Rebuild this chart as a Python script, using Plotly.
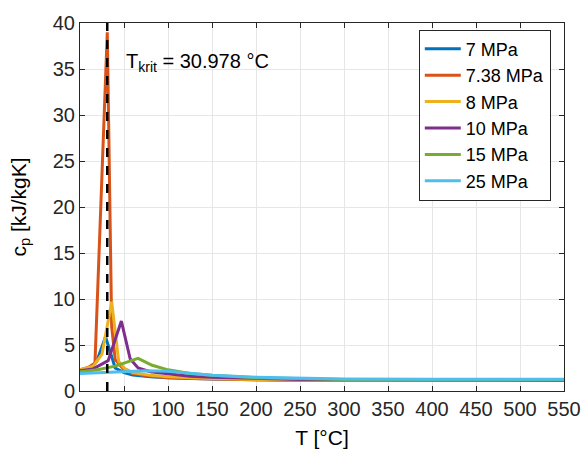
import plotly.graph_objects as go

# (T in degC, cp in kJ/kgK)
labels = ["7 MPa", "7.38 MPa", "8 MPa", "10 MPa", "15 MPa", "25 MPa"]
colors = ["#0072BD", "#D95319", "#EDB120", "#7E2F8E", "#77AC30", "#4DBEEE"]

T_7 = [0, 10, 19, 29, 40, 50, 60, 80, 100, 125, 150, 200, 250, 300, 400, 550]
cp_7 = [2.2, 2.5, 3.2, 5.9, 2.5, 2.0, 1.75, 1.55, 1.45, 1.35, 1.3, 1.22, 1.18, 1.16, 1.15, 1.17]

T_738 = [0, 10, 17, 31, 36, 40, 50, 60, 80, 100, 125, 150, 200, 250, 300, 400, 550]
cp_738 = [2.3, 2.6, 3.0, 39.0, 7.0, 3.4, 2.3, 1.9, 1.6, 1.45, 1.37, 1.3, 1.22, 1.18, 1.16, 1.15, 1.17]

T_8 = [0, 15, 25, 36, 44, 50, 60, 80, 100, 125, 150, 200, 250, 300, 400, 550]
cp_8 = [2.3, 2.7, 4.0, 9.7, 3.2, 2.5, 2.0, 1.7, 1.55, 1.42, 1.35, 1.25, 1.2, 1.17, 1.16, 1.17]

T_10 = [0, 15, 32, 47, 57, 66, 80, 100, 125, 150, 200, 250, 300, 400, 550]
cp_10 = [2.2, 2.4, 3.3, 7.6, 3.5, 2.5, 2.1, 1.85, 1.6, 1.5, 1.35, 1.26, 1.21, 1.18, 1.18]

T_15 = [0, 20, 40, 55, 66, 82, 100, 125, 150, 200, 250, 300, 400, 550]
cp_15 = [2.1, 2.3, 2.7, 3.2, 3.55, 2.8, 2.3, 1.9, 1.7, 1.45, 1.33, 1.26, 1.22, 1.21]

T_25 = [0, 25, 50, 75, 100, 125, 150, 200, 250, 300, 400, 550]
cp_25 = [1.9, 2.0, 2.1, 2.2, 2.15, 1.9, 1.7, 1.5, 1.37, 1.31, 1.28, 1.27]

T_krit = 30.978

series = [(T_7, cp_7), (T_738, cp_738), (T_8, cp_8), (T_10, cp_10), (T_15, cp_15), (T_25, cp_25)]

fig = go.Figure()
for (t, cp), name, col in zip(series, labels, colors):
    fig.add_trace(go.Scatter(x=t, y=cp, mode="lines", name=name,
                             line=dict(color=col, width=3)))

fig.add_trace(go.Scatter(x=[T_krit, T_krit], y=[0, 40], mode="lines", showlegend=False,
                         line=dict(color="black", width=2.5, dash="dash")))

fig.add_annotation(x=T_krit + 19, y=35.7, xanchor="left", yanchor="middle", showarrow=False,
                   text="T<sub>krit</sub> = 30.978 °C", font=dict(size=20, color="black"))

axis_style = dict(showline=True, linecolor="#262626", linewidth=1, mirror="ticks",
                  ticks="inside", ticklen=5, tickcolor="#262626",
                  showgrid=True, gridcolor="#e6e6e6", zeroline=False, automargin=False,
                  tickfont=dict(size=20, color="#262626"))

fig.update_xaxes(range=[0, 550], tickvals=list(range(0, 551, 50)),
                 title=dict(text="T [°C]", font=dict(size=21, color="black"), standoff=11),
                 **axis_style)
fig.update_yaxes(range=[0, 40], tickvals=list(range(0, 41, 5)),
                 title=dict(text="c<sub>p</sub> [kJ/kgK]", font=dict(size=21, color="black"), standoff=20),
                 **axis_style)

fig.update_layout(width=584, height=453, plot_bgcolor="white", paper_bgcolor="white",
                  font=dict(family="Liberation Sans, Arial, sans-serif"),
                  margin=dict(l=80, r=20, t=23, b=62),
                  legend=dict(x=0.70, y=0.982, xanchor="left", yanchor="top",
                              bgcolor="white", bordercolor="#262626", borderwidth=1,
                              font=dict(size=18, color="black"), tracegroupgap=0,
                              itemwidth=36))

# drop the page's default body margin so the figure sits at the window's corner
fig.write_html("out.html", config={"displayModeBar": False},
               post_script="document.body.style.margin='0';")
